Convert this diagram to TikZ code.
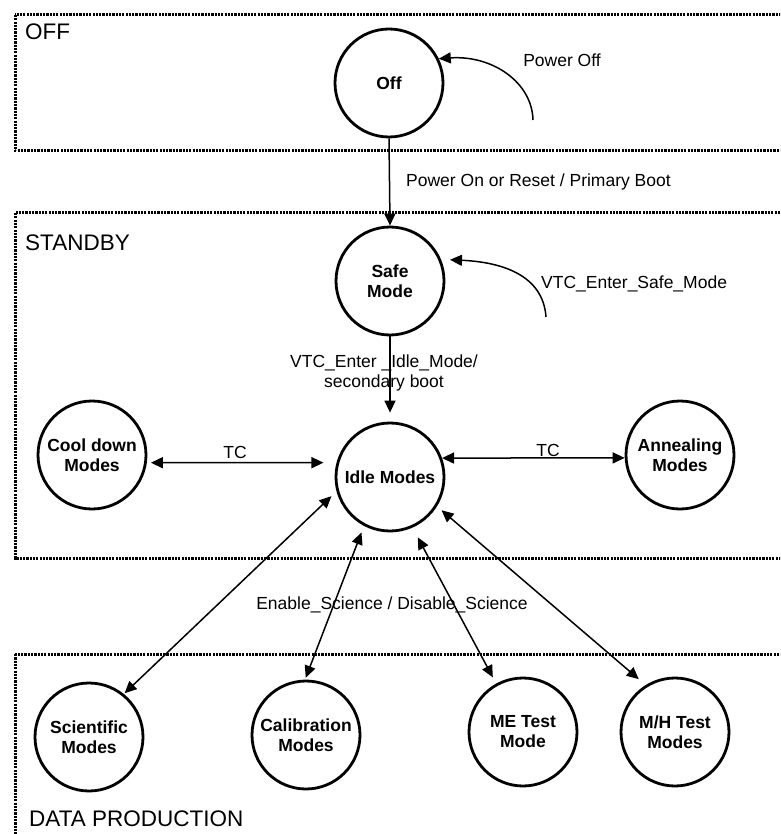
\documentclass[tikz,border=0pt]{standalone}
\usepackage{fontspec}
\setmainfont{Liberation Sans}
\usetikzlibrary{arrows.meta}
\begin{document}
\begin{tikzpicture}[x=1pt,y=-1pt,
  zone/.style={line width=3pt, dash pattern=on 2.2pt off 1.1pt},
  state/.style={circle, draw, line width=2.8pt, minimum size=108pt, inner sep=0pt,
    align=center, font=\fontsize{17.5pt}{20pt}\selectfont\bfseries},
  lbl/.style={inner sep=0pt, align=center, font=\fontsize{17.5pt}{20pt}\selectfont},
  ttl/.style={inner sep=0pt, anchor=west, font=\fontsize{22.5pt}{26pt}\selectfont},
  arr/.style={line width=1.5pt, -{Triangle[length=12pt,width=11pt]}},
  dbl/.style={line width=1.5pt, {Triangle[length=12pt,width=11pt]}-{Triangle[length=12pt,width=11pt]}}
]
\useasboundingbox (0,0) rectangle (780,834);
\clip (0,0) rectangle (780,834);
% zones
\draw[zone] (15,15) rectangle (795,151);
\draw[zone] (15,213) rectangle (795,558);
\draw[zone] (15,654) rectangle (795,850);
\node[ttl] (toff) at (25,32) {OFF};
\node[ttl] (tstandby) at (25,243) {STANDBY};
\node[ttl] (tdata) at (29,819) {DATA PRODUCTION};
% states
\node[state] (off) at (389,83) {Off};
\node[state] (safe) at (390,281) {Safe\\Mode};
\node[state] (idle) at (390,477) {Idle Modes};
\node[state] (cool) at (92,455) {Cool down\\Modes};
\node[state] (anneal) at (680,455) {Annealing\\Modes};
\node[state] (sci) at (89,737) {Scientific\\Modes};
\node[state] (cal) at (306,735) {Calibration\\Modes};
\node[state] (me) at (523,732) {ME Test\\Mode};
\node[state] (mh) at (675,732) {M/H Test\\Modes};
% transitions
\coordinate (poffstart) at (533,120);
\draw[arr] (poffstart) .. controls (532,82) and (492,55) .. (off.26);
\node[lbl] (lpoff) at (562,60) {Power Off};
\draw[arr] (off.south) -- (safe.north);
\node[lbl, anchor=west] (lpon) at (406,182) {Power On or Reset / Primary Boot};
\coordinate (safestart) at (546,317);
\draw[arr, shorten >=9pt] (safestart) .. controls (543,274) and (500,262) .. (safe.23);
\node[lbl, anchor=west] (lsafe) at (541,284) {VTC\_Enter\_Safe\_Mode};
\draw[arr, shorten >=9pt] (safe.south) -- (idle.north);
\node[lbl] (lidle) at (384,373) {VTC\_Enter \_Idle\_Mode/\\secondary boot};
\draw[dbl, shorten <=4pt, shorten >=13pt] (cool.-8) -- (idle.165);
\node[lbl] (ltc1) at (235,452) {TC};
\draw[dbl] (idle.20) -- (anneal.183);
\node[lbl] (ltc2) at (548,450) {TC};
\draw[dbl, shorten <=7pt, shorten >=1pt] (idle.195) -- (sci.51);
\draw[dbl, shorten <=7pt, shorten >=2pt] (idle.242) -- (cal.91);
\draw[dbl, shorten <=11pt, shorten >=7pt] (idle.294) -- (me.119);
\draw[dbl, shorten <=6pt, shorten >=9pt] (idle.328) -- (mh.122);
\node[lbl] (lsci) at (392,605) {Enable\_Science / Disable\_Science};
\end{tikzpicture}
\end{document}
